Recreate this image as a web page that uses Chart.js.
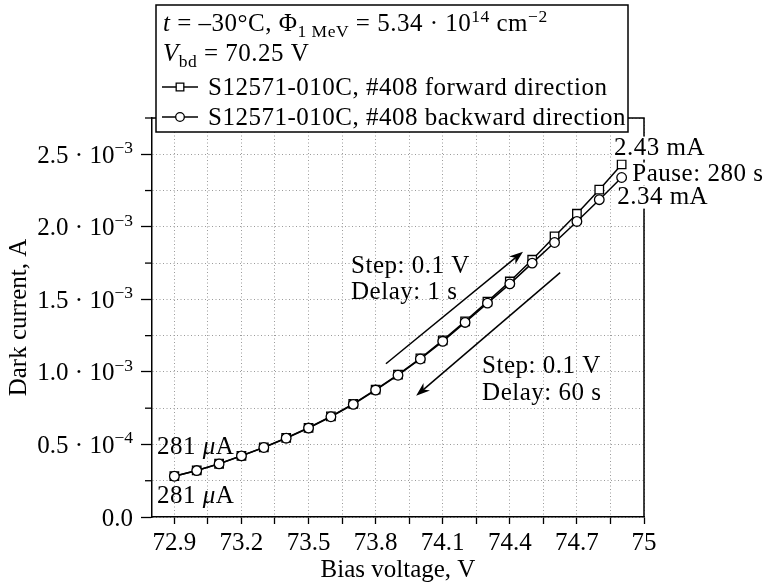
<!DOCTYPE html>
<html>
<head>
<meta charset="utf-8">
<script src="https://cdn.jsdelivr.net/npm/chart.js@4.4.1/dist/chart.umd.min.js"></script>
<style>
  html, body { margin: 0; padding: 0; background: #fff; }
  canvas { display: block; }
</style>
</head>
<body>
<canvas id="chart" width="763" height="583"></canvas>
<script>
// Bias voltage sweep points, V
const biasVoltage = [72.9, 73.0, 73.1, 73.2, 73.3, 73.4, 73.5, 73.6, 73.7, 73.8, 73.9,
                     74.0, 74.1, 74.2, 74.3, 74.4, 74.5, 74.6, 74.7, 74.8, 74.9];
// Dark current, A — forward sweep (step 0.1 V, delay 1 s)
const forwardCurrent = [2.81e-4, 3.21e-4, 3.67e-4, 4.22e-4, 4.80e-4, 5.45e-4, 6.15e-4,
                        6.93e-4, 7.79e-4, 8.78e-4, 9.81e-4, 1.093e-3, 1.217e-3, 1.349e-3,
                        1.484e-3, 1.623e-3, 1.773e-3, 1.934e-3, 2.090e-3, 2.256e-3, 2.43e-3];
// Dark current, A — backward sweep (step 0.1 V, delay 60 s)
const backwardCurrent = [2.81e-4, 3.20e-4, 3.66e-4, 4.21e-4, 4.79e-4, 5.43e-4, 6.13e-4,
                         6.91e-4, 7.76e-4, 8.75e-4, 9.77e-4, 1.089e-3, 1.211e-3, 1.341e-3,
                         1.474e-3, 1.607e-3, 1.750e-3, 1.892e-3, 2.037e-3, 2.187e-3, 2.34e-3];

const seriesNames = ['S12571-010C, #408 forward direction', 'S12571-010C, #408 backward direction'];

const xTickValues = [72.9, 73.05, 73.2, 73.35, 73.5, 73.65, 73.8, 73.95, 74.1, 74.25, 74.4, 74.55, 74.7, 74.85, 75.0];
const xTickLabels = ['72.9', '', '73.2', '', '73.5', '', '73.8', '', '74.1', '', '74.4', '', '74.7', '', '75'];
const yTickValues = [0, 0.25e-3, 0.5e-3, 0.75e-3, 1.0e-3, 1.25e-3, 1.5e-3, 1.75e-3, 2.0e-3, 2.25e-3, 2.5e-3, 2.75e-3];
const yTickMantissas = ['0.0', '', '0.5 · 10', '', '1.0 · 10', '', '1.5 · 10', '', '2.0 · 10', '', '2.5 · 10', ''];
const yTickExponents = ['', '', '−4', '', '−3', '', '−3', '', '−3', '', '−3', ''];

// Text notes placed in data coordinates (x in V, y in A)
const notes = [
  { x: 73.690, y: 1.684e-3, parts: [{ t: 'Step: 0.1 V' }] },
  { x: 73.690, y: 1.504e-3, parts: [{ t: 'Delay: 1 s' }] },
  { x: 74.276, y: 0.994e-3, parts: [{ t: 'Step: 0.1 V' }] },
  { x: 74.276, y: 0.807e-3, parts: [{ t: 'Delay: 60 s' }] },
  { x: 74.866, y: 2.498e-3, parts: [{ t: '2.43 mA' }], bg: true },
  { x: 74.948, y: 2.319e-3, parts: [{ t: 'Pause: 280 s' }], bg: true },
  { x: 74.880, y: 2.160e-3, parts: [{ t: '2.34 mA' }], bg: true },
  { x: 72.822, y: 0.435e-3, parts: [{ t: '281 ' }, { t: 'μ', it: true }, { t: 'A' }] },
  { x: 72.822, y: 0.0966e-3, parts: [{ t: '281 ' }, { t: 'μ', it: true }, { t: 'A' }] }
];

// Sweep direction arrows, data coordinates
const sweepArrows = [
  { x0: 73.846, y0: 1.056e-3, x1: 74.459, y1: 1.829e-3 },
  { x0: 74.625, y0: 1.684e-3, x1: 73.981, y1: 0.835e-3 }
];

const FONT = '"Liberation Serif", "Times New Roman", serif';
const FS = 25;

function partFont(p, size) {
  const s = (p.sub || p.sup) ? size * 0.7 : size;
  return (p.it ? 'italic ' : '') + s + 'px ' + FONT;
}
function richWidth(ctx, parts, size) {
  let w = 0;
  for (const p of parts) { ctx.font = partFont(p, size); w += ctx.measureText(p.t).width; }
  return w;
}
function drawRich(ctx, x, y, parts, size) {
  ctx.textBaseline = 'alphabetic';
  ctx.textAlign = 'left';
  for (const p of parts) {
    ctx.font = partFont(p, size);
    let dy = 0;
    if (p.sub) dy = size * 0.22;
    if (p.sup) dy = -size * 0.38;
    ctx.fillText(p.t, x, y + dy);
    x += ctx.measureText(p.t).width;
  }
  return x;
}

function drawArrow(ctx, x0, y0, x1, y1) {
  const ang = Math.atan2(y1 - y0, x1 - x0);
  const len = 14, half = 5;
  ctx.save();
  ctx.strokeStyle = '#000';
  ctx.fillStyle = '#000';
  ctx.lineWidth = 1.5;
  ctx.beginPath();
  ctx.moveTo(x0, y0);
  ctx.lineTo(x1 - Math.cos(ang) * len * 0.6, y1 - Math.sin(ang) * len * 0.6);
  ctx.stroke();
  ctx.translate(x1, y1);
  ctx.rotate(ang);
  ctx.beginPath();
  ctx.moveTo(0, 0);
  ctx.lineTo(-len, -half);
  ctx.lineTo(-len * 0.7, 0);
  ctx.lineTo(-len, half);
  ctx.closePath();
  ctx.fill();
  ctx.restore();
}

const decorations = {
  id: 'decorations',
  afterDraw(chart) {
    const ctx = chart.ctx;
    const xs = chart.scales.x, ys = chart.scales.y;
    const area = chart.chartArea;
    ctx.save();

    // frame: top and right edges
    ctx.strokeStyle = '#000';
    ctx.lineWidth = 1.5;
    ctx.beginPath();
    ctx.moveTo(area.left, area.top);
    ctx.lineTo(area.right, area.top);
    ctx.lineTo(area.right, area.bottom);
    ctx.stroke();

    // minor y ticks and y tick labels with exponents
    ctx.fillStyle = '#000';
    yTickValues.forEach((v, i) => {
      const py = ys.getPixelForValue(v);
      if (!yTickMantissas[i]) {
        ctx.lineWidth = 1.3;
        ctx.beginPath();
        ctx.moveTo(area.left - 7, py);
        ctx.lineTo(area.left, py);
        ctx.stroke();
        return;
      }
      const parts = [{ t: yTickMantissas[i] }];
      if (yTickExponents[i]) parts.push({ t: yTickExponents[i], sup: true });
      const w = richWidth(ctx, parts, FS);
      drawRich(ctx, area.left - 19 - w, py + 8.5, parts, FS);
    });

    // wider tracking for annotation and legend text
    ctx.letterSpacing = '0.5px';

    // text notes
    notes.forEach(n => {
      const px = xs.getPixelForValue(n.x);
      const py = ys.getPixelForValue(n.y);
      if (n.bg) {
        const w = richWidth(ctx, n.parts, FS);
        ctx.fillStyle = '#fff';
        ctx.fillRect(px - 2, py - 18, w + 4, 23);
      }
      ctx.fillStyle = '#000';
      drawRich(ctx, px, py, n.parts, FS);
    });

    // sweep arrows
    sweepArrows.forEach(a => drawArrow(ctx,
      xs.getPixelForValue(a.x0), ys.getPixelForValue(a.y0),
      xs.getPixelForValue(a.x1), ys.getPixelForValue(a.y1)));

    // legend box
    const bx = 156, by = 5, bw = 472, bh = 127;
    ctx.fillStyle = '#fff';
    ctx.fillRect(bx, by, bw, bh);
    ctx.strokeStyle = '#000';
    ctx.lineWidth = 1.5;
    ctx.strokeRect(bx, by, bw, bh);
    ctx.fillStyle = '#000';
    drawRich(ctx, bx + 7, by + 26, [
      { t: 't', it: true }, { t: ' = –30°C, Φ' }, { t: '1 MeV', sub: true },
      { t: ' = 5.34 · 10' }, { t: '14', sup: true }, { t: ' cm' }, { t: '−2', sup: true }
    ], FS);
    drawRich(ctx, bx + 7, by + 56, [
      { t: 'V', it: true }, { t: 'bd', sub: true }, { t: ' = 70.25 V' }
    ], FS);
    chart.data.datasets.forEach((ds, i) => {
      const base = by + 90 + i * 30;
      const cy = base - 8;
      ctx.strokeStyle = '#000';
      ctx.lineWidth = 1.5;
      ctx.beginPath();
      ctx.moveTo(bx + 6, cy);
      ctx.lineTo(bx + 42, cy);
      ctx.stroke();
      ctx.fillStyle = '#fff';
      ctx.lineWidth = 1.3;
      ctx.beginPath();
      if (ds.pointStyle === 'rect') {
        const s = ds.pointRadius * 0.9 * Math.SQRT1_2;
        ctx.rect(bx + 24 - s, cy - s, 2 * s, 2 * s);
      } else {
        ctx.arc(bx + 24, cy, ds.pointRadius * 0.9, 0, Math.PI * 2);
      }
      ctx.fill();
      ctx.stroke();
      ctx.fillStyle = '#000';
      drawRich(ctx, bx + 52, base, [{ t: ds.label }], FS);
    });
    ctx.restore();
  }
};

new Chart(document.getElementById('chart'), {
  type: 'line',
  data: {
    datasets: [
      {
        label: seriesNames[0],
        data: biasVoltage.map((v, i) => ({ x: v, y: forwardCurrent[i] })),
        borderColor: '#000', borderWidth: 1.5,
        pointStyle: 'rect', pointRadius: 6,
        pointBackgroundColor: '#fff', pointBorderColor: '#000', pointBorderWidth: 1.3,
        tension: 0, order: 1
      },
      {
        label: seriesNames[1],
        data: biasVoltage.map((v, i) => ({ x: v, y: backwardCurrent[i] })),
        borderColor: '#000', borderWidth: 1.5,
        pointStyle: 'circle', pointRadius: 4.8,
        pointBackgroundColor: '#fff', pointBorderColor: '#000', pointBorderWidth: 1.3,
        tension: 0, order: 0
      }
    ]
  },
  options: {
    responsive: false,
    animation: false,
    devicePixelRatio: 1,
    layout: { padding: { top: 118, right: 119, left: 0, bottom: 0 } },
    plugins: { legend: { display: false }, tooltip: { enabled: false } },
    scales: {
      x: {
        type: 'linear', min: 72.8, max: 75.0,
        afterBuildTicks: s => { s.ticks = xTickValues.map(v => ({ value: v })); },
        afterFit: s => { s.height = 66; },
        ticks: {
          autoSkip: false, maxRotation: 0, padding: 4, color: '#000',
          font: { family: FONT, size: FS },
          callback: (v, i) => xTickLabels[i]
        },
        grid: { color: '#9a9a9a', lineWidth: 1, tickLength: 7, tickColor: '#000', tickWidth: 1.3 },
        border: { color: '#000', width: 1.5, dash: [1, 2.5] },
        title: {
          display: true, text: 'Bias voltage, V', color: '#000',
          font: { family: FONT, size: FS, lineHeight: 1.0 }, padding: { top: 0, bottom: 0 }
        }
      },
      y: {
        type: 'linear', min: 0, max: 2.75e-3,
        afterBuildTicks: s => { s.ticks = yTickValues.map(v => ({ value: v })); },
        afterFit: s => { s.width = 152; },
        ticks: { display: false },
        grid: {
          color: '#9a9a9a', lineWidth: 1, tickLength: 11, tickWidth: 1.3,
          tickColor: c => (yTickMantissas[c.index] ? '#000' : 'rgba(0,0,0,0)')
        },
        border: { color: '#000', width: 1.5, dash: [1, 2.5] },
        title: {
          display: true, text: 'Dark current, A', color: '#000',
          font: { family: FONT, size: FS, lineHeight: 1.0 }, padding: { top: 7, bottom: 0 }
        }
      }
    }
  },
  plugins: [decorations]
});
</script>
</body>
</html>
